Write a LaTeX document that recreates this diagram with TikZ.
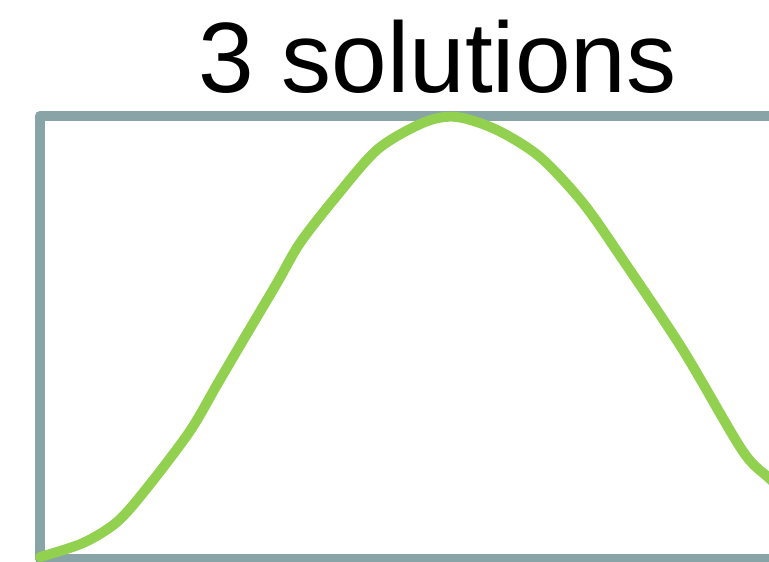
\documentclass[tikz,border=0pt]{standalone}
\usepackage{fontspec}
\setmainfont{Liberation Sans}
\usepackage{xcolor}
\usepackage{tikz}
\usetikzlibrary{positioning}
\definecolor{frameteal}{RGB}{136,164,166}
\definecolor{curvegreen}{RGB}{146,208,80}
\tikzset{
  titletext/.style={font=\fontsize{100}{110}\selectfont, inner sep=0pt},
  frameline/.style={draw=frameteal, line width=10pt, line join=round},
  curveline/.style={draw=curvegreen, line width=10pt, line cap=round, line join=round},
}
\begin{document}
\begin{tikzpicture}[x=1pt,y=-1pt]
  \useasboundingbox (0,0) rectangle (769,562);
  \clip (0,0) rectangle (769,562);
  \node[titletext, anchor=base] (title) at (437.5,92) {3 solutions};
  \draw[frameline] (820,116) -- (40,116) -- (40,559) -- (820,559);
  \draw[curveline] plot[smooth, tension=0.5] coordinates {
    (40,557) (83,543) (117,522) (147,488) (190,431) (218,383)
    (245,337) (277,283) (300,243) (335,198) (378,149) (425,122)
    (457,117) (497,130) (540,157) (583,203) (623,260) (683,350)
    (742,450) (769,478) (800,505)};
\end{tikzpicture}
\end{document}
